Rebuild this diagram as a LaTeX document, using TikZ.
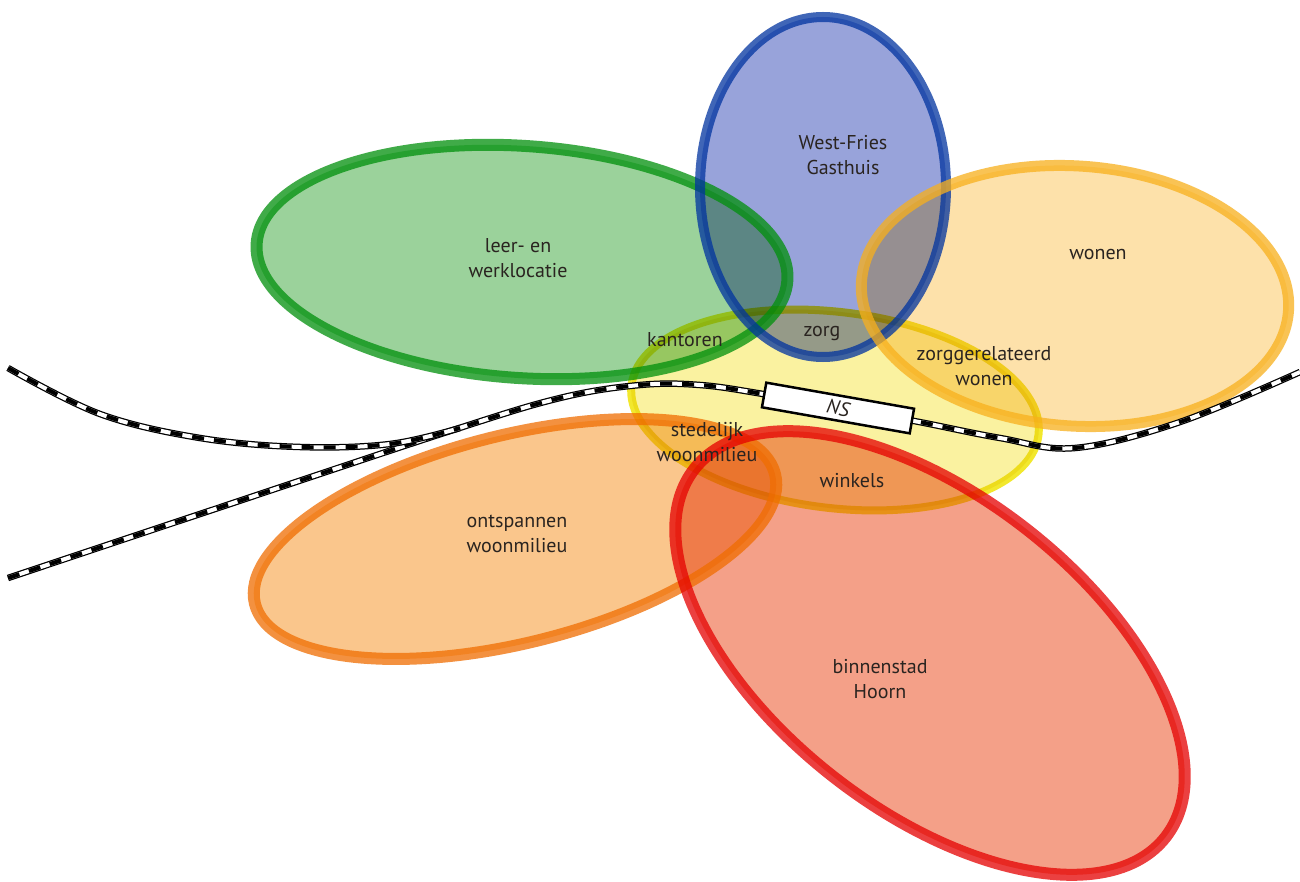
\documentclass[tikz,border=0pt]{standalone}
\usepackage{fontspec}
\setmainfont{PT Sans}
\usetikzlibrary{shapes.geometric}
\definecolor{gS}{RGB}{0,144,11}
\definecolor{gF}{RGB}{155,210,155}
\definecolor{bS}{RGB}{0,51,160}
\definecolor{bF}{RGB}{152,163,218}
\definecolor{wS}{RGB}{248,176,28}
\definecolor{wF}{RGB}{253,225,170}
\definecolor{yS}{RGB}{242,232,45}
\definecolor{yF}{RGB}{250,242,160}
\definecolor{oS}{RGB}{240,109,0}
\definecolor{oF}{RGB}{250,198,140}
\definecolor{rS}{RGB}{229,0,0}
\definecolor{rF}{RGB}{244,160,136}
\definecolor{txt}{RGB}{42,36,32}
\begin{document}
\begin{tikzpicture}[x=1pt,y=-1pt,
  zone/.style={ellipse, inner sep=0pt, outer sep=0pt},
  lbl/.style={font=\fontsize{20}{25}\selectfont, text=txt, align=center, inner sep=0pt},
  rail/.style={line width=6.5pt, draw=black,
    postaction={draw=white, line width=4pt},
    postaction={draw=black, line width=4pt, dash pattern=on 12pt off 10pt}},
  station/.style={draw=black, fill=white, line width=2.5pt, minimum width=150pt, minimum height=25pt, inner sep=0pt, text=txt, font=\fontsize{20}{25}\selectfont\itshape},
  yelz/.style={zone, minimum width=410pt, minimum height=196pt, rotate=-7},
  grnz/.style={zone, minimum width=532pt, minimum height=232pt, rotate=-4},
  bluz/.style={zone, minimum width=246pt, minimum height=340pt},
  wonz/.style={zone, minimum width=428pt, minimum height=260pt, rotate=-4},
  ontz/.style={zone, minimum width=536pt, minimum height=208pt, rotate=14},
  redz/.style={zone, minimum width=598pt, minimum height=314pt, rotate=-38}]
\useasboundingbox (0,0) rectangle (1300,882);
\fill[white] (0,0) rectangle (1300,882);
% fills
\begin{scope}[blend mode=multiply]
\node[yelz, fill=yF] (yel) at (835,410) {};
\node[grnz, fill=gF] (grn) at (522,262) {};
\node[bluz, fill=bF] (blu) at (823,187) {};
\node[wonz, fill=wF] (won) at (1075,296) {};
\node[ontz, fill=oF] (ont) at (515,539) {};
\node[redz, fill=rF] (red) at (930,653) {};
\end{scope}
% yellow border, tinted by the zones lying over it
\begin{scope}[blend mode=multiply]
\node[yelz, draw=yS, line width=8pt] (yelB) at (835,410) {};
\end{scope}
% other borders
\begin{scope}[draw opacity=0.75]
\node[grnz, draw=gS, line width=12pt] (grnB) at (522,262) {};
\node[bluz, draw=bS, line width=10pt] (bluB) at (823,187) {};
\node[wonz, draw=wS, line width=11pt] (wonB) at (1075,296) {};
\node[ontz, draw=oS, line width=12pt] (ontB) at (515,539) {};
\node[redz, draw=rS, line width=12pt] (redB) at (930,653) {};
\end{scope}
% railway
\draw[rail] plot[smooth, tension=0.6] coordinates {(8,578) (200,514) (447,432) (560,398) (640,385) (700,385) (763,394) (838,408) (914,421) (1000,438) (1075,448) (1180,422) (1300,372)};
\draw[rail] plot[smooth, tension=0.6] coordinates {(8,368) (100,414) (200,438) (300,447) (390,444) (460,428)};
\node[station, rotate=-10] (ns) at (838,408) {NS};
% labels
\node[lbl] (t1) at (843,155) {West-Fries\\Gasthuis};
\node[lbl] (t2) at (518,258) {leer- en\\werklocatie};
\node[lbl] (t3) at (1098,255) {wonen};
\node[lbl] (t4) at (984,366) {zorggerelateerd\\wonen};
\node[lbl] (t5) at (685,340) {kantoren};
\node[lbl] (t6) at (822,333) {zorg};
\node[lbl] (t7) at (707,442) {stedelijk\\woonmilieu};
\node[lbl] (t8) at (852,481) {winkels};
\node[lbl] (t9) at (517,534) {ontspannen\\woonmilieu};
\node[lbl] (t10) at (880,679) {binnenstad\\Hoorn};
\end{tikzpicture}
\end{document}
